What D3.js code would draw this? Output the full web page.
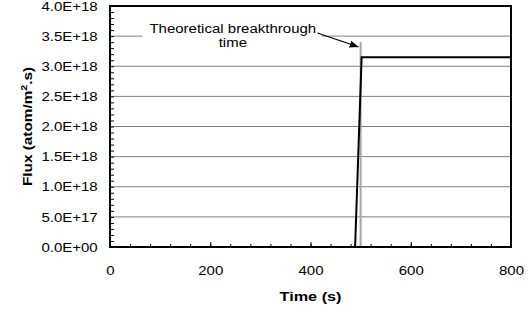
<!DOCTYPE html>
<html>
<head>
<meta charset="utf-8">
<script src="https://cdn.jsdelivr.net/npm/d3@7"></script>
<style>
  body { margin: 0; background: #fff; }
  svg { display: block; }
  text { font-family: "Liberation Sans", Arial, sans-serif; fill: #000; }
</style>
</head>
<body>
<div id="chart"></div>
<script>
// data
const timeValues = [0, 489, 502, 800];
const fluxValues = [0, 0, 3.15e18, 3.15e18];
const xTicks = [0, 200, 400, 600, 800];
const yTicks = [0, 5e17, 1e18, 1.5e18, 2e18, 2.5e18, 3e18, 3.5e18, 4e18];
const yTickLabels = ["0.0E+00", "5.0E+17", "1.0E+18", "1.5E+18", "2.0E+18", "2.5E+18", "3.0E+18", "3.5E+18", "4.0E+18"];
const breakthroughTime = 500;
const breakthroughFlux = 3.4e18;
const annotationLines = ["Theoretical breakthrough", "time"];

const W = 531, H = 315;
const margin = { top: 6, right: 20, bottom: 68, left: 110 };
const width = W - margin.left - margin.right;
const height = H - margin.top - margin.bottom;
const sx = 1.25; // the original text is stretched sideways

const svg = d3.select('#chart').append('svg')
  .attr('width', W)
  .attr('height', H);

svg.append('defs').append('marker')
  .attr('id', 'arrow')
  .attr('markerUnits', 'userSpaceOnUse')
  .attr('markerWidth', 9)
  .attr('markerHeight', 7)
  .attr('refX', 9)
  .attr('refY', 3.5)
  .attr('orient', 'auto')
  .append('path')
  .attr('d', 'M0,0 L9,3.5 L0,7 Z')
  .attr('fill', '#000');

const g = svg.append('g')
  .attr('transform', `translate(${margin.left},${margin.top})`);

const x = d3.scaleLinear().domain([0, 800]).range([0, width]);
const y = d3.scaleLinear().domain([0, 4e18]).range([height, 0]);

// gridlines
g.selectAll('.grid')
  .data(yTicks.slice(1, -1))
  .enter()
  .append('line')
  .attr('class', 'grid')
  .attr('x1', 0)
  .attr('x2', width)
  .attr('y1', (d) => y(d))
  .attr('y2', (d) => y(d))
  .attr('stroke', '#808080')
  .attr('stroke-width', 1);

// minor ticks, inside the plot
const yMinor = d3.range(0, 41).map((i) => i * 1e17);
g.append('g')
  .call(d3.axisRight(y).tickValues(yMinor).tickSize(4).tickFormat(''))
  .call((a) => a.select('.domain').remove())
  .selectAll('line').attr('stroke', '#000');

const xMinor = d3.range(0, 21).map((i) => i * 40);
g.append('g')
  .attr('transform', `translate(0,${height})`)
  .call(d3.axisTop(x).tickValues(xMinor).tickSize(3).tickFormat(''))
  .call((a) => a.select('.domain').remove())
  .selectAll('line').attr('stroke', '#000');

g.append('g')
  .attr('transform', `translate(0,${height})`)
  .call(d3.axisTop(x).tickValues(xTicks).tickSize(5).tickFormat(''))
  .call((a) => a.select('.domain').remove())
  .selectAll('line').attr('stroke', '#000');

// tick labels
const yAxis = g.append('g')
  .call(d3.axisLeft(y).tickValues(yTicks).tickSize(0).tickPadding(0)
    .tickFormat((d, i) => yTickLabels[i]));
yAxis.select('.domain').remove();
yAxis.selectAll('text')
  .attr('x', 0)
  .attr('dy', '0.35em')
  .attr('font-size', 12)
  .attr('font-family', '"Liberation Sans", Arial, sans-serif')
  .attr('transform', `translate(-12.3,0) scale(${sx},1)`);

const xAxis = g.append('g')
  .attr('transform', `translate(0,${height})`)
  .call(d3.axisBottom(x).tickValues(xTicks).tickSize(0).tickPadding(0));
xAxis.select('.domain').remove();
xAxis.selectAll('text')
  .attr('y', 0)
  .attr('dy', 0)
  .attr('font-size', 12)
  .attr('font-family', '"Liberation Sans", Arial, sans-serif')
  .attr('transform', `translate(0,28) scale(${sx},1)`);

// annotation box hides the gridline behind the text
const annX = x(245);
g.append('rect')
  .attr('x', x(65))
  .attr('y', 12)
  .attr('width', x(422) - x(65))
  .attr('height', 36)
  .attr('fill', '#fff');

// theoretical breakthrough marker
g.append('line')
  .attr('x1', x(breakthroughTime))
  .attr('x2', x(breakthroughTime))
  .attr('y1', y(0))
  .attr('y2', y(breakthroughFlux))
  .attr('stroke', '#a6a6a6')
  .attr('stroke-width', 2);

// flux curve
const line = d3.line()
  .x((d, i) => x(timeValues[i]))
  .y((d, i) => y(fluxValues[i]));

g.append('path')
  .datum(timeValues)
  .attr('d', line)
  .attr('fill', 'none')
  .attr('stroke', '#000')
  .attr('stroke-width', 2);

// plot frame
g.append('rect')
  .attr('x', 0)
  .attr('y', 0)
  .attr('width', width)
  .attr('height', height)
  .attr('fill', 'none')
  .attr('stroke', '#000')
  .attr('stroke-width', 2);

// annotation text and arrow
annotationLines.forEach((t, i) => {
  g.append('text')
    .attr('text-anchor', 'middle')
    .attr('font-size', 12)
    .attr('transform', `translate(${annX},${27 + i * 14}) scale(${sx},1)`)
    .text(t);
});

g.append('line')
  .attr('x1', x(414))
  .attr('y1', 27)
  .attr('x2', x(496))
  .attr('y2', 41)
  .attr('stroke', '#000')
  .attr('stroke-width', 1.2)
  .attr('marker-end', 'url(#arrow)');

// axis titles
g.append('text')
  .attr('text-anchor', 'middle')
  .attr('font-size', 13)
  .attr('font-weight', 'bold')
  .attr('transform', `translate(${width / 2},${height + 54}) scale(${sx},1)`)
  .text('Time (s)');

const yTitle = g.append('text')
  .attr('text-anchor', 'middle')
  .attr('font-size', 13)
  .attr('font-weight', 'bold')
  .attr('transform', `translate(-78,${height / 2}) rotate(-90) scale(1.18,1)`);
yTitle.append('tspan').text('Flux (atom/m');
yTitle.append('tspan').attr('font-size', 9).attr('dy', -5).text('2');
yTitle.append('tspan').attr('dy', 5).text('.s)');
</script>
</body>
</html>
